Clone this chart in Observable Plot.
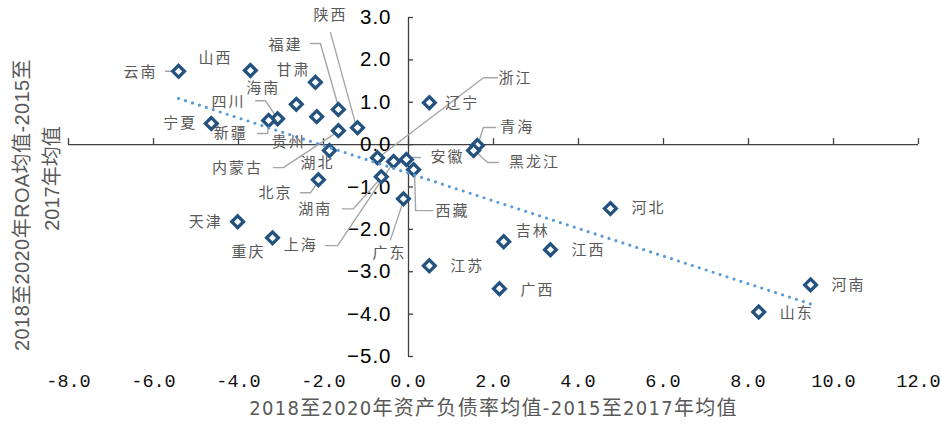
<!DOCTYPE html>
<html><head><meta charset="utf-8">
<script src="https://cdn.jsdelivr.net/npm/d3@7"></script>
<script src="https://cdn.jsdelivr.net/npm/@observablehq/plot@0.6"></script>
<style>
body{margin:0;background:#fff;}
#chart svg{display:block;}
</style></head><body><div id="chart"></div>
<script>
// ---- data ----
const provinces = ["云南","山西","甘肃","海南","四川","新疆","宁夏","贵州","福建","陕西","内蒙古","湖北","北京","湖南","上海","浙江","辽宁","安徽","西藏","广东","青海","黑龙江","天津","重庆","江苏","吉林","江西","广西","河北","山东","河南"];
const debtChange = [-5.41,-3.72,-2.19,-2.64,-3.08,-3.29,-4.64,-2.16,-1.65,-1.20,-1.65,-1.86,-2.12,-0.64,-0.35,-0.73,0.49,-0.05,0.12,-0.12,1.62,1.53,-4.02,-3.20,0.49,2.24,3.34,2.14,4.75,8.24,9.46];
const roaChange  = [1.73,1.75,1.47,0.95,0.61,0.57,0.50,0.66,0.83,0.40,0.33,-0.14,-0.83,-0.76,-0.40,-0.31,0.99,-0.35,-0.59,-1.28,-0.02,-0.14,-1.82,-2.20,-2.86,-2.29,-2.48,-3.40,-1.51,-3.95,-3.31];
const trendX = [-5.41, 9.46];
const trendY = [1.09, -3.76];
const xTicks = [-8,-6,-4,-2,0,2,4,6,8,10,12];
const yTicks = [-5,-4,-3,-2,-1,0,1,2,3];
const xTitle = "2018至2020年资产负债率均值-2015至2017年均值";
const yTitle1 = "2018至2020年ROA均值-2015至";
const yTitle2 = "2017年均值";

// ---- label layout (pixel offsets from each point) ----
const labelLayout = {
  "云南":{l:[-38,1],lead:[[-13,0],[-6,0]]},
  "山西":{l:[-35,-12]},
  "甘肃":{l:[-22,-12]},
  "海南":{l:[-33,-16]},
  "四川":{l:[-49,-17],lead:[[-22,-18],[-12,-18],[-2,-3]]},
  "新疆":{l:[-38,13],lead:[[-11,13],[-1,13],[0,3]]},
  "宁夏":{l:[-31,0]},
  "贵州":{l:[-28,26]},
  "福建":{l:[-53,-64],lead:[[-28,-66],[-18,-66],[0,-3]]},
  "陕西":{l:[-27,-112],lead:[[-27,-95],[-2,-4]]},
  "内蒙古":{l:[-101,38],lead:[[-65,37],[-55,37],[-2,2]]},
  "湖北":{l:[-12,13]},
  "北京":{l:[-43,13],lead:[[-18,13],[-8,13],[-1,3]]},
  "湖南":{l:[-66,32],lead:[[-39,32],[-28,32],[-1,2]]},
  "上海":{l:[-93,84],lead:[[-68,84],[-56,84],[-1,2]]},
  "浙江":{l:[138,-80],lead:[[120,-80],[106,-80],[2,-1]]},
  "辽宁":{l:[33,1]},
  "安徽":{l:[41,-2],lead:[[14,-2],[3,-2]]},
  "西藏":{l:[39,42],lead:[[19,41],[2,41],[1,4]]},
  "广东":{l:[-14,54],lead:[[-13,41],[0,2]]},
  "青海":{l:[40,-18],lead:[[18,-18],[6,-18],[1,-2]]},
  "黑龙江":{l:[61,12],lead:[[25,12],[14,12],[2,1]]},
  "天津":{l:[-32,0]},
  "重庆":{l:[-24,14]},
  "江苏":{l:[38,0]},
  "吉林":{l:[29,-10]},
  "江西":{l:[38,0]},
  "广西":{l:[38,1]},
  "河北":{l:[38,0]},
  "山东":{l:[38,1]},
  "河南":{l:[38,0]}
};

const W = 941, H = 424;
const mL = 68, mR = 23, mT = 17, mB = 68;
const xDom = [-8, 12], yDom = [-5, 3];
const kx = (xDom[1]-xDom[0])/(W-mL-mR);
const ky = (yDom[1]-yDom[0])/(H-mT-mB);

const pts = provinces.map((name,i)=>({name, x: debtChange[i], y: roaChange[i]}));
const trend = trendX.map((x,i)=>({x, y: trendY[i]}));
const labels = pts.map(p=>{
  const o = labelLayout[p.name].l;
  return {name:p.name, x: p.x + o[0]*kx, y: p.y - o[1]*ky};
});
const leaders = [];
pts.forEach(p=>{
  const lead = labelLayout[p.name].lead;
  if (!lead) return;
  lead.forEach(o=>leaders.push({name:p.name, x:p.x + o[0]*kx, y:p.y - o[1]*ky}));
});

const gray = "#595959";
const plot = Plot.plot({
  width: W, height: H,
  marginLeft: mL, marginRight: mR, marginTop: mT, marginBottom: mB,
  x: {domain: xDom, axis: null},
  y: {domain: yDom, axis: null},
  style: {background: "#fff", overflow: "visible"},
  marks: [
    Plot.ruleY([0], {x1: xDom[0], x2: xDom[1], stroke: "#404040", strokeWidth: 1.3}),
    Plot.ruleX([0], {y1: yDom[0], y2: yDom[1], stroke: "#404040", strokeWidth: 1.3}),
    Plot.ruleX(xTicks, {x: d=>d, y1: 0, y2: 6*ky, stroke: "#404040", strokeWidth: 1.3}),
    Plot.ruleY(yTicks, {y: d=>d, x1: 0, x2: 5*kx, stroke: "#404040", strokeWidth: 1.3}),
    Plot.text(yTicks, {x: 0, y: d=>d, text: d=>(d<0?"\u2212":"")+Math.abs(d).toFixed(1), dx: -17, textAnchor: "end",
      fontSize: 20.5, fill: "#000", fontFamily: "Liberation Sans, Arial, sans-serif"}),
    Plot.text(xTicks, {x: d=>d, y: yDom[0], text: d=>d.toFixed(1), dy: 25, fontSize: 18.5, fill: "#111",
      fontFamily: "Liberation Mono, DejaVu Sans Mono, monospace"}),
    Plot.line(leaders, {x: "x", y: "y", z: "name", stroke: "#a6a6a6", strokeWidth: 1.4, curve: "linear"}),
    Plot.dot(pts, {x: "x", y: "y", symbol: "diamond2", r: 5.3, stroke: "#24527f", strokeWidth: 3.3, fill: "#fff"}),
    Plot.line(trend, {x: "x", y: "y", stroke: "#5b9bd5", strokeWidth: 3.2, strokeDasharray: "0,7.3", strokeLinecap: "round"}),
    Plot.text(labels, {x: "x", y: "y", text: "name", fontSize: 15, fill: gray,
      fontFamily: "Noto Sans CJK SC, sans-serif"}),
    Plot.text([xTitle], {frameAnchor: "bottom", text: d=>d, dy: 52, lineAnchor: "middle", textAnchor: "middle", fontSize: 20, fill: gray,
      fontFamily: "Liberation Sans Narrow, DejaVu Sans Condensed, Noto Sans CJK SC, sans-serif"}),
    Plot.text([yTitle1], {frameAnchor: "left", text: d=>d, rotate: -90, textAnchor: "middle", lineAnchor: "middle", dx: -46, dy: 18, fontSize: 20, fill: gray,
      fontFamily: "Liberation Sans, Noto Sans CJK SC, sans-serif"}),
    Plot.text([yTitle2], {frameAnchor: "left", text: d=>d, rotate: -90, textAnchor: "middle", lineAnchor: "middle", dx: -16, dy: -8.5, fontSize: 20, fill: gray,
      fontFamily: "Liberation Sans, Noto Sans CJK SC, sans-serif"})
  ]
});
// letter spacing tweaks (presentation only)
const provSet = new Set(provinces);
d3.select(plot).selectAll("text").each(function(){
  const t = this.textContent;
  if (provSet.has(t)) this.style.letterSpacing = "2px";
  else if (t === xTitle) this.style.letterSpacing = "1.3px";
  else if (t === yTitle1) this.style.letterSpacing = "0.4px";
  else if (/^\u2212?\d\.0$/.test(t)) this.style.letterSpacing = "1px";
});
document.getElementById("chart").appendChild(plot);
</script>
</body></html>
